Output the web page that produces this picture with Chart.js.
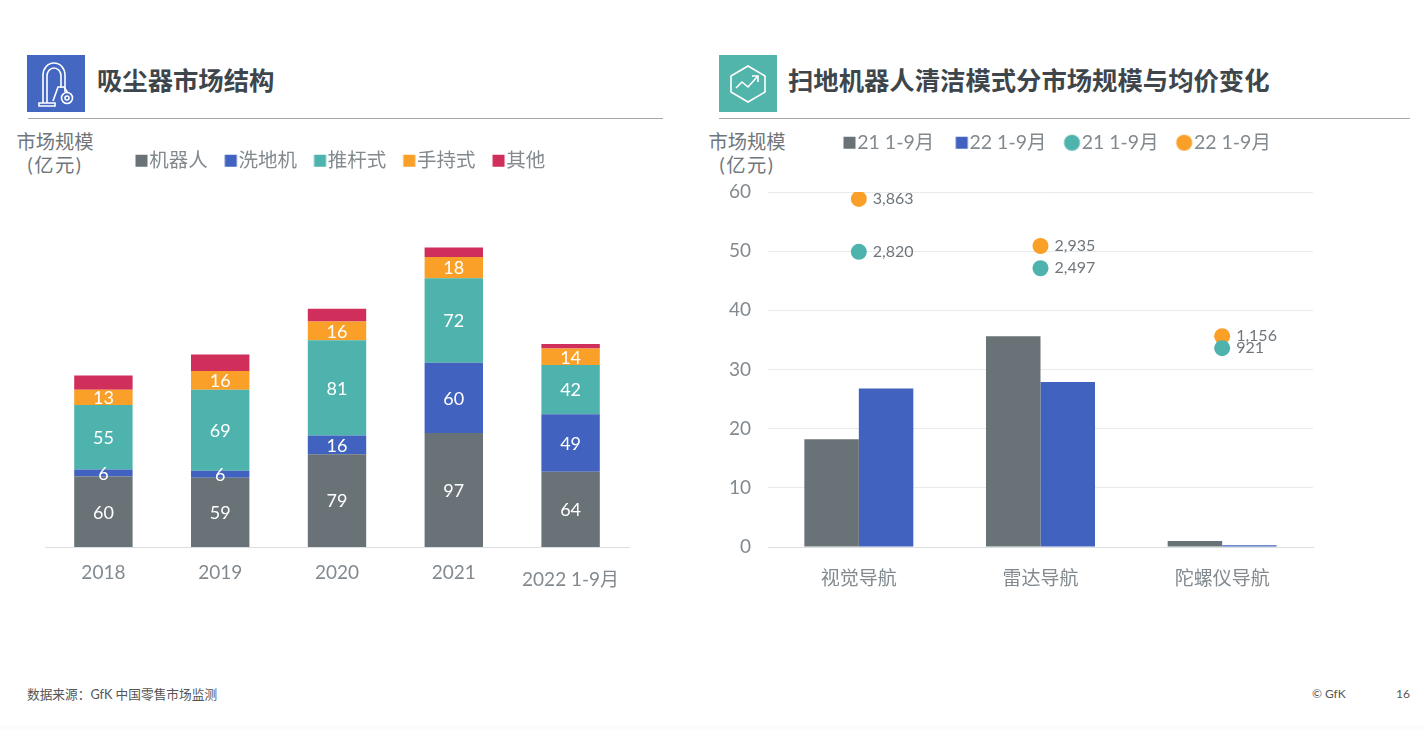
<!DOCTYPE html>
<html lang="zh"><head><meta charset="utf-8">
<script src="https://cdn.jsdelivr.net/npm/chart.js@4"></script>
<style>
html,body{margin:0;padding:0;background:#fff;width:1424px;height:730px;overflow:hidden}
body{position:relative;font-family:Lato,"Noto Sans CJK SC",sans-serif}
.a{position:absolute}
canvas{position:absolute}
.title{font:700 25.35px/30px "Noto Sans CJK SC",sans-serif;color:#3e464b;white-space:nowrap}
.rule{height:1px;background:#a6a8aa}
.unit{font:400 19.3px/23px Lato,"Noto Sans CJK SC",sans-serif;color:#6f767b;text-align:center;white-space:nowrap}
.unit span{letter-spacing:1.5px}
.foot{font:400 12px/16px Lato,"Noto Sans CJK SC",sans-serif;color:#555;white-space:nowrap}
</style></head><body>
<div class="a" style="left:27px;top:55px;width:58px;height:57px;background:#4467c1">
<svg width="58" height="57" fill="none" stroke="#fff" stroke-width="1.6"><path d="M16 48V20a11 12 0 0 1 22 0v17M20 48V21a7 8 0 0 1 14 0v12"/><path d="M12 48h16v3H12zM26 46l5-14h6l4 6"/><circle cx="40" cy="43" r="5.5"/><circle cx="40" cy="43" r="2"/></svg></div>
<div class="a title" style="left:97px;top:64px">吸尘器市场结构</div>
<div class="a rule" style="left:28px;top:118px;width:635px"></div>
<div class="a unit" style="left:5px;top:130px;width:100px">市场规模<br><span>(亿元)</span></div>
<div class="a" style="left:719px;top:55px;width:58px;height:57px;background:#52b5ab">
<svg width="58" height="57" fill="none" stroke="#fff" stroke-width="1.6"><path d="M29 11l17 10v16L29 47 12 37V21z"/><path d="M17 33l6-6 6 5 9-10M33 21h6v6"/></svg></div>
<div class="a title" style="left:788px;top:64px">扫地机器人清洁模式分市场规模与均价变化</div>
<div class="a rule" style="left:719px;top:118px;width:691px"></div>
<div class="a unit" style="left:697px;top:130px;width:100px">市场规模<br><span>(亿元)</span></div>
<canvas id="left" width="700" height="480" style="left:0;top:130px"></canvas>
<canvas id="right" width="724" height="510" style="left:700px;top:100px"></canvas>
<div class="a foot" style="left:27px;top:686px;font-size:12.7px">数据来源：GfK 中国零售市场监测</div>
<div class="a foot" style="left:1312px;top:686px">© GfK</div>
<div class="a foot" style="left:1396px;top:686px">16</div>
<div class="a" style="left:0;top:725px;width:1424px;height:5px;background:#fafcfe"></div>
<script>
const years = ['2018','2019','2020','2021','2022 1-9月'];
const robot = [60,59,79,97,64];
const mop = [6,6,16,60,49];
const stick = [55,69,81,72,42];
const handheld = [13,16,16,18,14];
const other = [12,14,11,8,4];
const modes = ['视觉导航','雷达导航','陀螺仪导航'];
const size21 = [18.2,35.6,1.0];
const size22 = [26.8,27.9,0.3];
const price21 = [2820,2497,921];
const price22 = [3863,2935,1156];
const GREY='#697277',BLUE='#4163bf',TEAL='#4eb3ad',ORANGE='#fa9f28',RED='#d02e5b',TXT='#828a8f';
const FONT='Lato,"Noto Sans CJK SC",sans-serif';
Chart.defaults.font.family=FONT;

function marker(color,round,size){
  const c=document.createElement('canvas');c.width=28;c.height=20;
  const g=c.getContext('2d');g.fillStyle=color;
  const right=22.5;
  if(round){g.beginPath();g.arc(right-size/2,10,size/2,0,Math.PI*2);g.fill();}
  else g.fillRect(right-size,10-size/2,size,size);
  return c;
}
function legendOpts(){
  return {display:true,position:'top',align:'start',
    labels:{usePointStyle:true,boxWidth:1,color:TXT,font:{size:19.5,family:FONT}}};
}
const placeLegend={id:'placeLegend',afterLayout(chart,args,o){
  const l=chart.legend,p=l.options.labels.padding;
  l.left=o.x-p;l.top=o.y-p-11;
}};
const valueLabels={id:'valueLabels',afterDatasetsDraw(chart){
  const g=chart.ctx;g.save();
  chart.data.datasets.forEach((d,i)=>{
    if(!d.valueLabel)return;
    chart.getDatasetMeta(i).data.forEach((el,k)=>{
      const p=el.getCenterPoint();
      g.font='400 '+d.valueLabel.size+'px '+FONT;g.fillStyle=d.valueLabel.color;
      g.textBaseline='middle';g.textAlign=d.valueLabel.align;
      g.fillText(d.data[k].toLocaleString('en-US'),p.x+d.valueLabel.dx,p.y+d.valueLabel.dy);
    });
  });
  g.restore();
}};
const white={size:18,color:'#fff',align:'center',dx:0,dy:0};
function stack(label,data,color,lab){
  return {label,data,backgroundColor:color,borderWidth:0,pointStyle:marker(color,false,12),
    valueLabel:lab?{...white,dy:1}:null,barPercentage:0.5,categoryPercentage:1};
}
const leftOpts=legendOpts();leftOpts.labels.padding=20;
new Chart(document.getElementById('left'),{
  type:'bar',
  data:{labels:years,datasets:[
    stack('机器人',robot,GREY,true),stack('洗地机',mop,BLUE,true),stack('推杆式',stick,TEAL,true),
    stack('手持式',handheld,ORANGE,true),stack('其他',other,RED,false)]},
  plugins:[placeLegend,valueLabels],
  options:{responsive:false,animation:false,
    layout:{padding:{left:45,right:71,top:0,bottom:0}},
    plugins:{legend:leftOpts,tooltip:{enabled:false},placeLegend:{x:138.5,y:32}},
    scales:{
      x:{stacked:true,grid:{display:false},border:{color:'#dcdfe1'},
        afterFit(s){s.height=63;},
        ticks:{color:TXT,padding:6,maxRotation:0,autoSkip:false,
          font:c=>({size:19,family:FONT,lineHeight:c.index===4?1.95:1.2})}},
      y:{stacked:true,display:false,min:0,max:313}
    }}
});
const rightOpts=legendOpts();rightOpts.labels.padding=24.5;
function dots(label,data,color){
  return {type:'line',label,data,yAxisID:'y1',showLine:false,backgroundColor:color,borderColor:color,
    pointRadius:8,pointHoverRadius:8,pointBorderWidth:0,pointStyle:'circle',
    valueLabel:{size:16,color:'#6f767b',align:'left',dx:14,dy:0}};
}
function bars(label,data,color){
  return {type:'bar',label,data,yAxisID:'y',backgroundColor:color,borderWidth:0,barPercentage:1,categoryPercentage:0.6};
}
const rightChart=new Chart(document.getElementById('right'),{
  data:{labels:modes,datasets:[
    bars('21 1-9月',size21,GREY),bars('22 1-9月',size22,BLUE),
    dots('21 1-9月',price21,TEAL),dots('22 1-9月',price22,ORANGE)]},
  plugins:[placeLegend,valueLabels],
  options:{responsive:false,animation:false,
    layout:{padding:{left:0,right:111,top:38,bottom:0}},
    plugins:{legend:{...rightOpts,labels:{...rightOpts.labels,
        generateLabels(ch){
          return ch.data.datasets.map((d,i)=>({text:d.label,datasetIndex:i,fontColor:TXT,
            pointStyle:marker(d.backgroundColor,d.type==='line',d.type==='line'?16:12),
            fillStyle:d.backgroundColor,strokeStyle:d.backgroundColor,lineWidth:0,hidden:false}));
        }}},
      tooltip:{enabled:false},placeLegend:{x:146.5,y:44}},
    scales:{
      x:{grid:{display:false},border:{color:'#dcdfe1'},
        afterFit(s){s.height=63;},
        ticks:{color:TXT,padding:12,maxRotation:0,font:{size:19,family:FONT}}},
      y:{min:0,max:60,position:'left',border:{display:false},grid:{color:'#e8eaeb',drawTicks:false},
        afterFit(s){s.width=68;},
        ticks:{stepSize:10,color:TXT,padding:17,font:{size:19,family:FONT}}},
      y1:{display:false,min:-3000,max:4000}
    }}
});
</script>
</body></html>
